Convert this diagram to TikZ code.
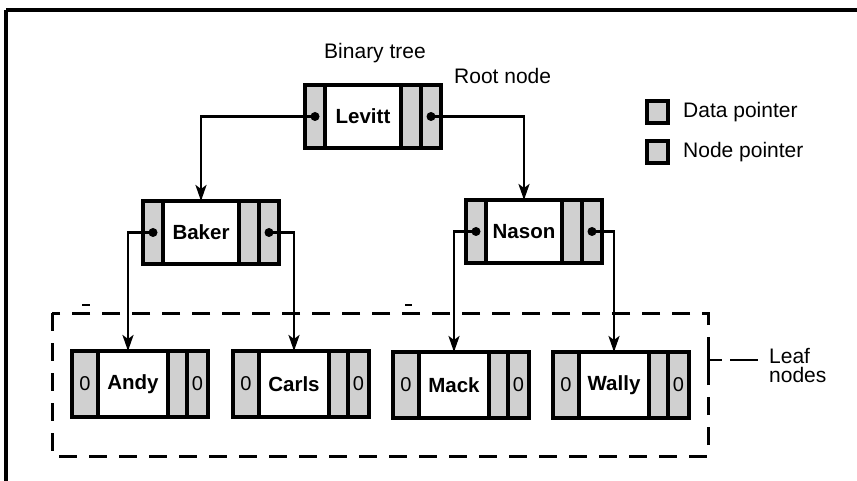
\documentclass[tikz,border=0pt]{standalone}
\usepackage{fontspec}
\setmainfont{Liberation Sans}
\usetikzlibrary{arrows.meta}
\definecolor{cellgray}{RGB}{208,208,208}
\tikzset{
  cellbase/.style={draw=black, line width=3.2pt, inner sep=0pt, outer sep=0pt, anchor=north west},
  gcell/.style={cellbase, fill=cellgray},
  wcell/.style={cellbase, fill=white, font=\bfseries\fontsize{20.5}{24}\selectfont},
  zero/.style={font=\fontsize{20}{24}\selectfont},
  conn/.style={line width=2.6pt, -{Stealth[length=16pt,width=11pt,inset=4pt]}},
  lbl/.style={font=\fontsize{21}{24}\selectfont, inner sep=0pt},
  dot/.style={fill=black},
  frame/.style={line width=3.2pt},
  leafbox/.style={line width=3pt, dash pattern=on 18pt off 12pt},
}
\newcommand\recint[4]{%
  \node[gcell, minimum width=20pt, minimum height=63pt] (#1-l) at (#2,#3) {};
  \node[wcell, minimum width=76pt, minimum height=63pt] (#1) at (#1-l.north east) {#4};
  \node[gcell, minimum width=20pt, minimum height=63pt] (#1-r1) at (#1.north east) {};
  \node[gcell, minimum width=20pt, minimum height=63pt] (#1-r2) at (#1-r1.north east) {};
}
\newcommand\recleaf[4]{%
  \node[gcell, minimum width=26pt, minimum height=66pt, zero] (#1-l) at (#2,#3) {0};
  \node[wcell, minimum width=70pt, minimum height=66pt] (#1) at (#1-l.north east) {#4};
  \node[gcell, minimum width=19pt, minimum height=66pt] (#1-r1) at (#1.north east) {};
  \node[gcell, minimum width=21pt, minimum height=66pt, zero] (#1-r2) at (#1-r1.north east) {0};
}
\begin{document}
\begin{tikzpicture}[x=1pt, y=-1pt]
\useasboundingbox (0,0) rectangle (857,481);
% frame
\draw[frame] (6,10) -- (857,10);
\draw[frame] (6,10) -- (6,481);

% titles
\node[lbl] (title) at (375,53) {Binary tree};
\node[lbl, anchor=west] (rootlbl) at (454,76) {Root node};

% legend
\node[draw=black, line width=3.2pt, fill=cellgray, minimum width=21pt, minimum height=22pt, inner sep=0pt] (lg1) at (657.5,112) {};
\node[draw=black, line width=3.2pt, fill=cellgray, minimum width=21pt, minimum height=22pt, inner sep=0pt] (lg2) at (657.5,152) {};
\node[lbl, anchor=west] (lg1t) at (683,112) {Data pointer};
\node[lbl, anchor=west] (lg2t) at (683,152) {Node pointer};

% internal records
\recint{levitt}{305}{85}{Levitt}
\recint{baker}{143}{201}{Baker}
\recint{nason}{466}{200}{Nason}

% leaf records
\recleaf{andy}{72}{351}{Andy}
\recleaf{carls}{233}{351}{Carls}
\recleaf{mack}{393}{352}{Mack}
\recleaf{wally}{553}{352}{Wally}

% connectors
\draw[conn] (levitt-l.center) -| (baker.north);
\draw[conn] (levitt-r2.center) -| (nason.north);
\draw[conn] (baker-l.center) -| ([xshift=-5pt]andy.north);
\draw[conn] (baker-r2.center) -| (carls.north);
\draw[conn] (nason-l.center) -| (mack.north);
\draw[conn] (nason-r2.center) -| (wally.north);
\foreach \n in {levitt-l, levitt-r2, baker-l, baker-r2, nason-l, nason-r2}
  \fill[dot] (\n.center) circle (4.5pt);

% leaf nodes group
\draw[leafbox] (52,313) rectangle (708,456);
\draw[line width=3pt] (708,347) -- (708,372);
\coordinate (tick) at (708,360);
\draw[line width=2.8pt] (tick) -- ++(14,0);
\draw[line width=2.8pt] ([xshift=22pt]tick) -- ++(28,0);
\node[lbl, anchor=west, align=left, font=\fontsize{21}{19}\selectfont] (leaflbl) at (769,366) {Leaf\\nodes};

% stray marks
\draw[line width=2.6pt] (82,305) -- (90,305);
\draw[line width=2.6pt] (405,305) -- (412,305);
\end{tikzpicture}
\end{document}
